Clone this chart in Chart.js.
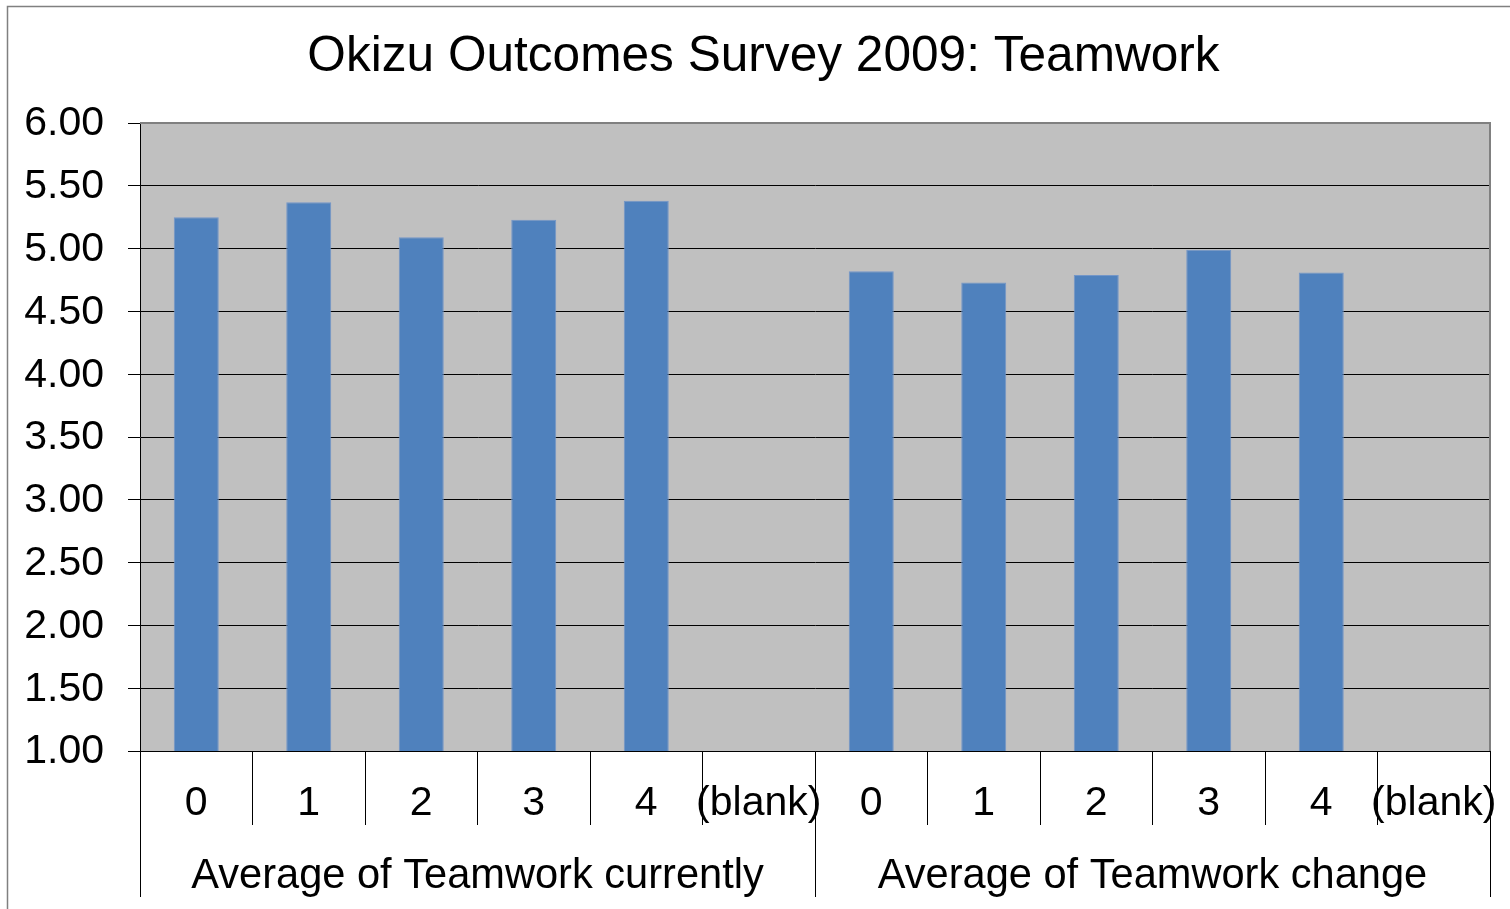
<!DOCTYPE html>
<html>
<head>
<meta charset="utf-8">
<title>Okizu Outcomes Survey 2009: Teamwork</title>
<script src="https://cdn.jsdelivr.net/npm/chart.js@4.4.1/dist/chart.umd.min.js"></script>
<style>
  html, body { margin: 0; padding: 0; background: #fff; overflow: hidden; }
  canvas { display: block; }
</style>
</head>
<body>
<canvas id="myChart" width="1510" height="909"></canvas>
<script>
// categories (inner level) and groups (outer level)
var categorias = ["0", "1", "2", "3", "4", "(blank)", "0", "1", "2", "3", "4", "(blank)"];
var grupos = ["Average of Teamwork currently", "Average of Teamwork change"];

// averages, (blank) has no value
var valores = [5.25, 5.37, 5.09, 5.23, 5.38, null, 4.82, 4.73, 4.79, 4.99, 4.81, null];

var titulo = "Okizu Outcomes Survey 2009: Teamwork";
var yMin = 1, yMax = 6, yPasso = 0.5;

var fonte = "'Liberation Sans', Arial, sans-serif";

// white background, outer frame, grey plot area and the title
// (title centred on the original frame, which is wider than the window)
var fundo = {
  id: "fundo",
  beforeDraw: function (chart) {
    var ctx = chart.ctx;
    var a = chart.chartArea;
    ctx.save();
    ctx.fillStyle = "#ffffff";
    ctx.fillRect(0, 0, chart.width, chart.height);
    ctx.strokeStyle = "#808080";
    ctx.lineWidth = 1.5;
    ctx.beginPath();
    ctx.moveTo(7.5, chart.height + 5);
    ctx.lineTo(7.5, 6.5);
    ctx.lineTo(chart.width + 5, 6.5);
    ctx.stroke();
    ctx.fillStyle = "#c0c0c0";
    ctx.fillRect(a.left, a.top, a.right - a.left, a.bottom - a.top);
    ctx.restore();
  },
  afterDraw: function (chart) {
    var ctx = chart.ctx;
    var a = chart.chartArea;
    ctx.save();
    ctx.strokeStyle = "#808080";
    ctx.lineWidth = 2;
    ctx.beginPath();
    ctx.moveTo(a.left, a.top);
    ctx.lineTo(a.right, a.top);
    ctx.lineTo(a.right, a.bottom);
    ctx.stroke();

    ctx.fillStyle = "#000";
    ctx.font = "49.6px " + fonte;
    ctx.textAlign = "center";
    ctx.textBaseline = "middle";
    ctx.fillText(titulo, (37 + a.right) / 2, 57.8);
    ctx.restore();
  }
};

const data = {
  labels: categorias,
  datasets: [
    {
      label: "Teamwork",
      backgroundColor: "#4f81bd",
      borderColor: "#7396c8",
      borderWidth: 1,
      data: valores,
      barPercentage: 0.4,
      categoryPercentage: 1.0,
      xAxisID: "x",
    },
  ],
};

const config = {
  type: "bar",
  data: data,
  plugins: [fundo],
  options: {
    responsive: false,
    animation: false,
    events: [],
    layout: { padding: { left: 17, right: 20, top: 123, bottom: 0 } },
    plugins: {
      legend: { display: false },
      tooltip: { enabled: false },
      title: { display: false },
    },
    scales: {
      y: {
        min: yMin,
        max: yMax,
        afterFit: function (scale) { scale.width = 123; },
        ticks: {
          stepSize: yPasso,
          color: "#000",
          padding: 24,
          labelOffset: 1,
          font: { family: fonte, size: 41 },
          callback: function (v) { return Number(v).toFixed(2); },
        },
        grid: { color: "#000", lineWidth: 1, tickLength: 12, tickColor: "#000" },
        border: { display: true, color: "#000", width: 1 },
      },
      x: {
        type: "category",
        position: "bottom",
        offset: true,
        afterFit: function (scale) { scale.height = 74; },
        ticks: {
          color: "#000",
          autoSkip: false,
          maxRotation: 0,
          minRotation: 0,
          padding: -46,
          font: { family: fonte, size: 41 },
        },
        grid: { offset: true, drawOnChartArea: false, tickLength: 74, color: "#000", lineWidth: 1 },
        border: { display: true, color: "#000", width: 1 },
      },
      x2: {
        type: "category",
        position: "bottom",
        labels: grupos,
        offset: true,
        afterFit: function (scale) { scale.height = 84; },
        ticks: {
          color: "#000",
          autoSkip: false,
          maxRotation: 0,
          minRotation: 0,
          padding: -45,
          font: { family: fonte, size: 41.6 },
        },
        grid: { offset: true, drawOnChartArea: false, tickLength: 72, color: "#000", lineWidth: 1 },
        border: { display: false },
      },
    },
  },
};

const myChart = new Chart(document.getElementById("myChart"), config);
</script>
</body>
</html>
